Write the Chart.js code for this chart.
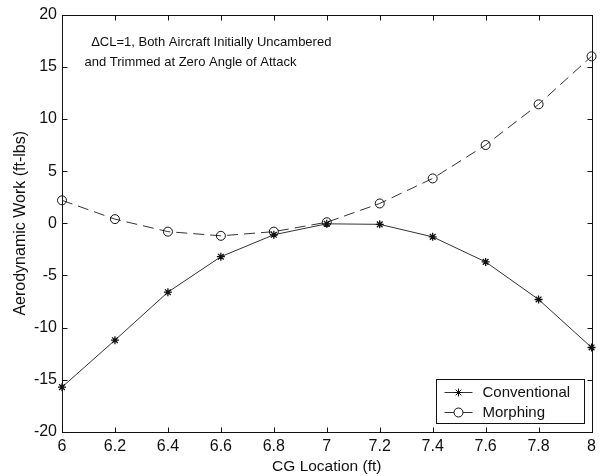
<!DOCTYPE html>
<html>
<head>
<meta charset="utf-8">
<script src="https://cdn.jsdelivr.net/npm/chart.js@4/dist/chart.umd.min.js"></script>
<style>
  body { margin: 0; background: #fff; }
  #wrap { width: 601px; height: 476px; position: relative; }
</style>
</head>
<body>
<div id="wrap"><canvas id="workChart"></canvas></div>
<script>
// CG location (ft) and aerodynamic work (ft-lbs)
const cgLocation = [6.0, 6.2, 6.4, 6.6, 6.8, 7.0, 7.2, 7.4, 7.6, 7.8, 8.0];
const conventional = [-15.7, -11.2, -6.6, -3.2, -1.1, -0.05, -0.1, -1.3, -3.7, -7.3, -11.9];
const morphing = [2.2, 0.4, -0.8, -1.2, -0.8, 0.1, 1.9, 4.3, 7.5, 11.4, 16.0];
const seriesNames = ['Conventional', 'Morphing'];
const noteLines = ['\u0394CL=1, Both Aircraft Initially Uncambered', 'and Trimmed at Zero Angle of Attack'];

const FONT = '"Liberation Sans", Arial, sans-serif';
const INK = '#111';
const LINE = '#333';

function toPoints(ys) {
    return cgLocation.map((x, i) => ({ x: x, y: ys[i] }));
}

// matlab style box with ticks pointing inward, on all 4 sides
const frameTicks = {
    id: 'frameTicks',
    afterDraw(chart) {
        const { ctx, chartArea: a, scales: { x, y } } = chart;
        ctx.save();
        ctx.strokeStyle = INK;
        ctx.lineWidth = 1;
        const L = Math.round(a.left) + 0.5, R = Math.round(a.right) + 0.5;
        const T = Math.round(a.top) + 0.5, B = Math.round(a.bottom) + 0.5;
        ctx.strokeRect(L, T, R - L, B - T);
        ctx.beginPath();
        x.ticks.forEach(t => {
            const px = Math.round(x.getPixelForValue(t.value)) + 0.5;
            ctx.moveTo(px, B); ctx.lineTo(px, B - 5);
            ctx.moveTo(px, T); ctx.lineTo(px, T + 5);
        });
        y.ticks.forEach(t => {
            const py = Math.round(y.getPixelForValue(t.value)) + 0.5;
            ctx.moveTo(L, py); ctx.lineTo(L + 5, py);
            ctx.moveTo(R, py); ctx.lineTo(R - 5, py);
        });
        ctx.stroke();

        // note text, placed in data coords
        ctx.fillStyle = INK;
        ctx.font = '13px ' + FONT;
        ctx.textBaseline = 'middle';
        ctx.fillText(noteLines[0], x.getPixelForValue(6.11), y.getPixelForValue(17.3));
        ctx.fillText(noteLines[1], x.getPixelForValue(6.085), y.getPixelForValue(15.4));

        // legend box (bottom right)
        const bx = 436.5, by = 379.5, bw = 148, bh = 44;
        ctx.fillStyle = '#fff';
        ctx.fillRect(bx, by, bw, bh);
        ctx.strokeRect(bx, by, bw, bh);
        ctx.font = '15px ' + FONT;
        chart.data.datasets.forEach((ds, i) => {
            const cy = Math.round(by + 12 + i * 20) + 0.5;
            ctx.strokeStyle = LINE;
            ctx.beginPath();
            ctx.moveTo(bx + 8, cy); ctx.lineTo(bx + 36, cy);
            ctx.stroke();
            ctx.fillStyle = '#fff';
            ctx.strokeStyle = INK;
            Chart.helpers.drawPoint(ctx, {
                pointStyle: ds.pointStyle, radius: ds.pointRadius, borderWidth: 1
            }, bx + 22, cy);
            ctx.fillStyle = INK;
            ctx.fillText(ds.label, bx + 46, cy);
        });
        ctx.restore();
    }
};

new Chart('workChart', {
    type: 'line',
    data: {
        datasets: [
            {
                label: seriesNames[0],
                data: toPoints(conventional),
                borderColor: LINE,
                borderWidth: 1,
                pointStyle: 'star',
                pointRadius: 4,
                pointBorderColor: INK,
                pointBorderWidth: 1.3,
                pointBackgroundColor: INK,
                clip: false
            },
            {
                label: seriesNames[1],
                data: toPoints(morphing),
                borderColor: LINE,
                borderWidth: 1,
                borderDash: [11, 6],
                pointStyle: 'circle',
                pointRadius: 4.5,
                pointBorderColor: INK,
                pointBorderWidth: 1,
                pointBackgroundColor: 'rgba(0,0,0,0)',
                clip: false
            }
        ]
    },
    options: {
        responsive: true,
        maintainAspectRatio: false,
        animation: false,
        layout: { padding: { top: 14, right: 8, left: 0, bottom: 0 } },
        plugins: {
            legend: { display: false },
            tooltip: { enabled: false }
        },
        scales: {
            x: {
                type: 'linear',
                min: 6, max: 8,
                grid: { display: false, drawTicks: false },
                border: { display: false },
                ticks: {
                    stepSize: 0.2,
                    color: INK,
                    padding: 5,
                    maxRotation: 0,
                    font: { family: FONT, size: 16 },
                    callback: v => String(Number(v.toFixed(1)))
                },
                title: {
                    display: true,
                    text: 'CG Location (ft)',
                    color: INK,
                    font: { family: FONT, size: 15.5 },
                    padding: { top: 0, bottom: 0 }
                },
                afterFit: s => { s.height = 44; }
            },
            y: {
                min: -20, max: 20,
                grid: { display: false, drawTicks: false },
                border: { display: false },
                ticks: {
                    stepSize: 5,
                    color: INK,
                    padding: 5,
                    font: { family: FONT, size: 16 }
                },
                title: {
                    display: true,
                    text: 'Aerodynamic Work (ft-lbs)',
                    color: INK,
                    font: { family: FONT, size: 16 },
                    padding: { top: 11, bottom: 0 }
                },
                afterFit: s => { s.width = 62; }
            }
        }
    },
    plugins: [frameTicks]
});
</script>
</body>
</html>
